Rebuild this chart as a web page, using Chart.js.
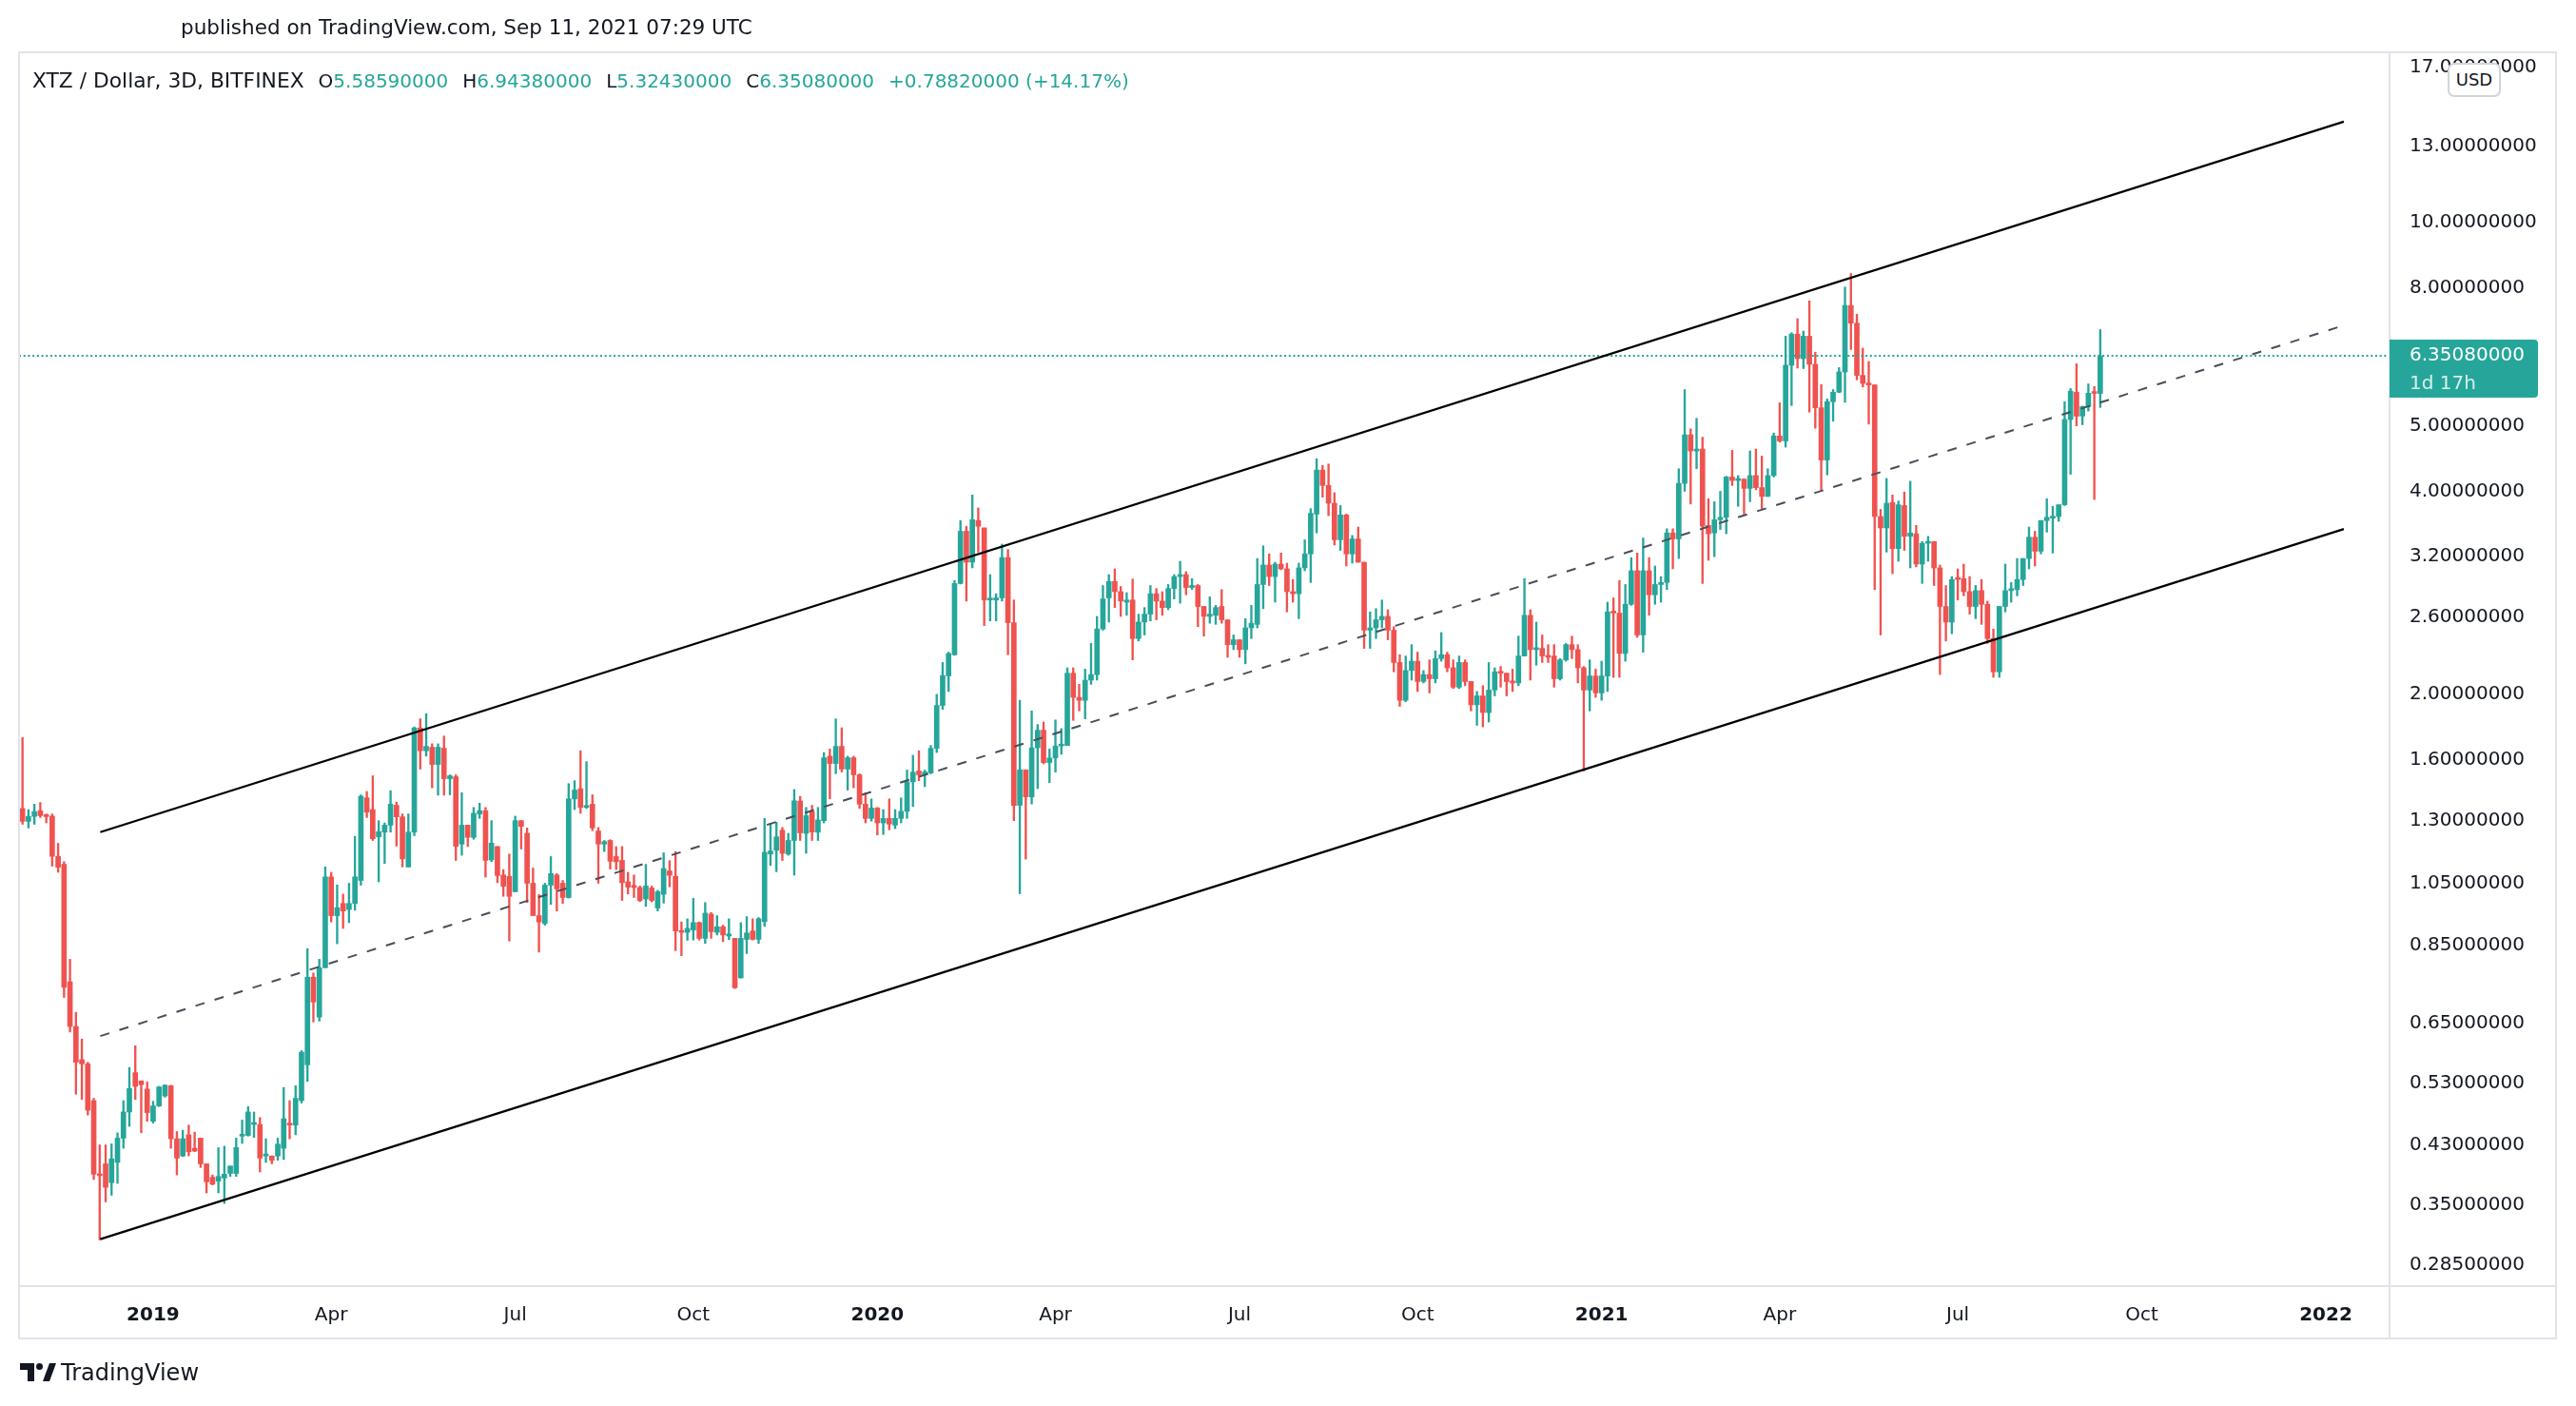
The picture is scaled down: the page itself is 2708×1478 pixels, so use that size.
<!DOCTYPE html>
<html><head><meta charset="utf-8">
<script src="https://cdn.jsdelivr.net/npm/chart.js@4.4.0/dist/chart.umd.min.js"></script>
<style>
html,body{margin:0;padding:0;background:#fff;}
#wrap{position:relative;width:2708px;height:1478px;overflow:hidden;font-family:"DejaVu Sans",sans-serif;color:#131722;}
#c{position:absolute;left:0;top:0;}
.title{position:absolute;left:190px;top:15px;font-size:21.5px;line-height:28px;white-space:nowrap;}
.legend{position:absolute;left:34px;top:71px;font-size:20px;line-height:28px;white-space:nowrap;}
.legend .nm{font-size:21.8px;}
.legend .v{color:#26a69a;}
.legend .it{margin-left:15px;}
.usd{position:absolute;left:2573px;top:66px;width:52px;height:32px;border:2px solid #d1d4dc;border-radius:7px;background:#fff;font-size:18px;line-height:32px;text-align:center;box-sizing:content-box;}
.footer{position:absolute;left:21px;top:1428px;height:30px;white-space:nowrap;}
.footer svg{position:absolute;left:0;top:5px;}
.footer span{position:absolute;left:43px;top:0;font-size:24px;line-height:30px;}
</style></head>
<body><div id="wrap">
<canvas id="c" width="2708" height="1478"></canvas>
<div class="title">published on TradingView.com, Sep 11, 2021 07:29 UTC</div>
<div class="legend"><span class="nm">XTZ / Dollar, 3D, BITFINEX</span><span class="it">O<span class="v">5.58590000</span></span><span class="it">H<span class="v">6.94380000</span></span><span class="it">L<span class="v">5.32430000</span></span><span class="it">C<span class="v">6.35080000</span></span><span class="it v">+0.78820000 (+14.17%)</span></div>
<div class="usd">USD</div>
<div class="footer"><svg width="38" height="20" viewBox="0 0 38 20"><path d="M0 0H15V19H8V7H0Z" fill="#131722"/><circle cx="20.5" cy="3.5" r="3.5" fill="#131722"/><path d="M24 19L31 0H38L31 19Z" fill="#131722"/></svg><span>TradingView</span></div>
</div>
<script>
// ---- data (XTZ/USD, 3-day candles, Bitfinex) ----
const firstCandleDay = -65.8; // days relative to 2019-01-01
const candleStepDays = 3;
const openPrices = [
1.355,1.297,1.319,1.345,1.322,1.32,1.151,1.12,0.75,0.644,
0.575,0.567,0.50,0.389,0.403,0.378,0.405,0.44,0.481,0.55,
0.535,0.52,0.466,0.491,0.508,0.526,0.439,0.414,0.445,0.425,
0.44,0.403,0.385,0.380,0.384,0.39,0.39,0.443,0.444,0.461,
0.461,0.414,0.414,0.414,0.425,0.463,0.46,0.50,0.565,0.762,
0.665,0.787,1.073,0.94,0.98,0.96,0.98,1.06,1.405,1.35,
1.23,1.25,1.28,1.37,1.317,1.11,1.25,1.784,1.65,1.67,
1.575,1.665,1.50,1.51,1.20,1.28,1.228,1.33,1.345,1.137,
1.19,1.08,1.075,1.02,1.30,1.245,1.05,0.94,0.915,1.043,
1.08,1.05,1.00,1.40,1.45,1.36,1.375,1.255,1.20,1.215,
1.15,1.135,1.055,1.042,1.035,0.995,1.033,0.965,1.011,1.095,
1.075,0.892,0.888,0.895,0.918,0.87,0.945,0.888,0.905,0.877,
0.87,0.76,0.867,0.892,0.867,0.921,1.16,1.175,1.258,1.16,
1.215,1.39,1.245,1.34,1.25,1.30,1.62,1.58,1.675,1.55,
1.611,1.52,1.375,1.31,1.357,1.29,1.31,1.28,1.31,1.342,
1.484,1.54,1.52,1.53,1.664,1.926,2.13,2.29,2.92,3.49,
3.14,3.62,3.53,2.76,2.76,2.78,3.19,2.555,1.37,1.546,
1.41,1.667,1.77,1.585,1.61,1.677,1.68,2.15,1.98,1.96,
2.10,2.14,2.50,2.78,2.94,2.84,2.74,2.76,2.42,2.56,
2.63,2.82,2.75,2.69,2.87,2.99,3.01,2.88,2.90,2.70,
2.61,2.62,2.70,2.58,2.37,2.41,2.33,2.51,2.54,2.91,
3.11,2.99,3.12,3.07,2.84,2.82,3.08,3.23,3.70,4.30,
4.08,3.84,3.39,3.69,3.23,3.40,3.14,2.49,2.51,2.58,
2.61,2.49,2.23,1.96,2.17,2.24,2.09,2.14,2.11,2.26,
2.29,2.19,2.05,2.23,2.09,1.93,1.99,1.88,2.03,2.16,
2.15,2.09,2.08,2.28,2.62,2.33,2.34,2.28,2.28,2.11,
2.25,2.37,2.33,2.19,2.03,2.13,2.01,2.13,2.65,2.64,
2.30,2.72,3.05,2.45,3.05,2.81,2.91,2.93,3.47,3.40,
4.11,4.85,4.59,4.62,3.56,3.47,3.63,3.66,4.20,4.15,
4.17,4.04,4.22,4.05,3.93,4.22,4.83,4.75,6.15,6.84,
6.29,6.79,6.17,5.32,4.45,5.43,5.61,6.01,7.54,7.10,
5.94,5.78,5.75,3.67,3.53,3.85,3.29,3.81,3.43,3.46,
3.12,3.35,3.37,3.08,2.70,2.56,2.98,2.97,2.84,2.70,
2.85,2.72,2.42,2.16,2.70,2.85,2.86,2.96,3.18,3.42,
3.26,3.62,3.65,3.67,3.82,5.11,5.61,5.17,5.34,5.59,
5.5859];
const highPrices = [
1.726,1.35,1.375,1.383,1.33,1.33,1.203,1.13,0.81,0.676,
0.617,0.57,0.504,0.43,0.43,0.4315,0.448,0.50,0.56,0.603,
0.535,0.533,0.499,0.525,0.528,0.527,0.45,0.452,0.46,0.449,
0.44,0.403,0.388,0.426,0.428,0.40,0.44,0.468,0.49,0.481,
0.472,0.439,0.414,0.44,0.523,0.50,0.526,0.593,0.84,0.773,
0.81,1.11,1.09,1.044,1.012,1.05,1.232,1.42,1.436,1.515,
1.30,1.29,1.44,1.385,1.33,1.33,1.79,1.84,1.873,1.69,
1.69,1.735,1.52,1.52,1.43,1.28,1.36,1.38,1.36,1.30,
1.19,1.10,1.16,1.32,1.30,1.268,1.106,1.01,1.05,1.15,
1.085,1.06,1.475,1.49,1.65,1.59,1.42,1.27,1.215,1.218,
1.19,1.19,1.09,1.08,1.04,1.12,1.04,1.025,1.165,1.134,
1.17,0.92,0.93,0.997,0.92,0.983,0.95,0.94,0.91,0.93,
0.87,0.918,0.937,0.93,0.934,1.31,1.288,1.293,1.27,1.245,
1.446,1.412,1.36,1.37,1.36,1.64,1.66,1.84,1.785,1.62,
1.62,1.525,1.43,1.40,1.36,1.35,1.40,1.35,1.405,1.545,
1.625,1.65,1.545,1.68,2.0,2.23,2.31,2.95,3.62,3.55,
3.95,3.78,3.53,3.01,2.82,3.34,3.28,2.76,1.96,1.546,
1.89,1.805,1.82,1.66,1.833,1.78,2.19,2.19,2.07,2.18,
2.38,2.61,2.90,3.01,3.07,2.89,2.83,2.965,2.63,2.69,
2.90,2.87,2.84,2.91,3.01,3.15,3.04,2.97,2.91,2.70,
2.79,2.71,2.86,2.58,2.45,2.41,2.59,2.71,3.18,3.32,
3.23,3.14,3.24,3.13,2.96,3.13,3.39,3.77,4.47,4.37,
4.39,3.98,3.81,3.70,3.44,3.54,3.14,2.65,2.68,2.76,
2.67,2.52,2.29,2.28,2.37,2.31,2.17,2.25,2.32,2.47,
2.31,2.25,2.28,2.25,2.09,2.02,2.06,2.23,2.19,2.20,
2.15,2.18,2.44,2.97,2.67,2.56,2.45,2.37,2.37,2.26,
2.38,2.44,2.37,2.20,2.25,2.18,2.24,2.74,2.78,2.95,
2.91,3.19,3.24,3.41,3.19,3.10,2.99,3.52,3.52,4.32,
5.66,4.95,5.13,4.81,3.90,3.86,4.00,4.21,4.60,4.22,
4.17,4.59,4.62,4.51,4.32,4.88,5.41,6.79,6.87,7.21,
6.91,7.66,6.43,5.76,5.48,5.66,6.10,8.03,8.41,7.32,
6.52,6.23,5.75,3.76,4.18,3.95,3.87,3.99,4.14,3.56,
3.37,3.43,3.37,3.11,2.90,2.99,3.07,3.12,2.99,2.90,
2.96,2.75,2.50,2.70,3.12,2.93,3.18,3.18,3.54,3.49,
3.62,3.90,3.80,3.82,5.43,5.68,6.18,5.35,5.77,5.72,
6.9438];
const lowPrices = [
1.284,1.268,1.284,1.314,1.29,1.113,1.09,0.711,0.632,0.511,
0.502,0.476,0.382,0.311,0.354,0.362,0.377,0.425,0.458,0.502,
0.448,0.466,0.463,0.49,0.506,0.425,0.388,0.413,0.414,0.42,
0.398,0.365,0.375,0.365,0.352,0.386,0.386,0.432,0.443,0.441,
0.392,0.405,0.403,0.408,0.409,0.439,0.445,0.496,0.534,0.654,
0.656,0.787,0.92,0.854,0.90,0.918,0.958,1.043,1.314,1.215,
1.055,1.123,1.25,1.192,1.11,1.11,1.235,1.55,1.62,1.454,
1.418,1.418,1.42,1.135,1.155,1.19,1.22,1.31,1.072,1.13,
1.052,1.004,0.862,1.02,1.18,0.983,0.94,0.83,0.91,0.977,
0.955,0.98,0.998,1.35,1.333,1.355,1.256,1.05,1.17,1.102,
1.10,0.99,1.012,1.00,0.986,0.97,0.985,0.955,0.981,1.037,
0.834,0.82,0.864,0.865,0.865,0.855,0.87,0.88,0.86,0.866,
0.733,0.76,0.826,0.865,0.855,0.906,1.116,1.092,1.135,1.155,
1.079,1.215,1.163,1.215,1.215,1.29,1.40,1.526,1.535,1.443,
1.454,1.355,1.29,1.298,1.238,1.24,1.26,1.265,1.29,1.31,
1.364,1.49,1.46,1.525,1.64,1.90,2.02,2.285,2.915,2.75,
3.08,3.25,2.53,2.57,2.57,2.75,2.29,1.30,1.013,1.14,
1.376,1.45,1.578,1.48,1.534,1.63,1.68,1.83,1.89,1.84,
2.07,2.10,2.49,2.56,2.69,2.61,2.62,2.25,2.40,2.45,
2.57,2.58,2.62,2.67,2.77,2.73,2.81,2.86,2.52,2.44,
2.55,2.54,2.55,2.27,2.33,2.27,2.22,2.42,2.51,2.68,
2.90,2.74,3.06,2.65,2.74,2.59,3.05,2.93,3.47,3.92,
3.68,3.33,3.27,3.10,3.13,3.14,2.34,2.34,2.42,2.51,
2.41,2.16,1.92,1.95,2.10,2.02,2.08,2.01,2.08,2.24,
2.16,2.04,2.04,2.06,1.89,1.80,1.79,1.82,1.99,2.05,
1.99,2.02,2.06,2.28,2.10,2.21,2.23,2.23,2.05,2.10,
2.24,2.26,2.08,1.54,1.89,1.98,1.96,2.02,2.12,2.12,
2.24,2.71,2.43,2.31,2.62,2.72,2.74,2.86,3.07,3.18,
4.00,3.83,4.32,2.92,3.16,3.20,3.51,3.46,4.08,3.80,
3.70,3.86,4.02,3.77,3.93,4.20,4.73,4.65,5.36,6.09,
6.08,5.24,4.96,4.02,4.23,5.08,5.60,5.42,6.49,5.85,
5.71,5.03,2.86,2.45,3.25,3.02,3.15,3.27,3.08,3.09,
2.92,3.15,2.90,2.14,2.40,2.46,2.76,2.80,2.63,2.59,
2.54,2.38,2.12,2.12,2.65,2.74,2.80,2.90,3.07,3.10,
3.23,3.48,3.24,3.61,3.81,4.24,5.00,5.02,5.26,3.89,
5.3243];
const closePrices = [
1.297,1.319,1.341,1.322,1.318,1.151,1.109,0.736,0.644,0.57,
0.567,0.484,0.389,0.387,0.372,0.41,0.44,0.481,0.521,0.525,
0.528,0.48,0.491,0.524,0.527,0.439,0.411,0.439,0.42,0.421,
0.403,0.379,0.376,0.386,0.389,0.40,0.426,0.444,0.481,0.463,
0.411,0.416,0.408,0.431,0.47,0.46,0.504,0.59,0.762,0.70,
0.787,1.073,0.94,0.966,0.955,0.98,1.073,1.413,1.338,1.222,
1.252,1.28,1.375,1.317,1.141,1.25,1.784,1.65,1.675,1.575,
1.67,1.50,1.515,1.191,1.28,1.228,1.333,1.345,1.135,1.204,
1.078,1.039,1.004,1.30,1.275,1.05,0.94,0.92,1.043,1.085,
1.03,1.00,1.40,1.443,1.36,1.365,1.268,1.20,1.21,1.132,
1.13,1.052,1.036,1.035,0.99,1.04,0.99,1.02,1.104,1.079,
0.892,0.888,0.90,0.918,0.87,0.948,0.89,0.905,0.88,0.883,
0.735,0.87,0.886,0.867,0.93,1.167,1.172,1.23,1.163,1.215,
1.391,1.247,1.322,1.25,1.303,1.611,1.58,1.675,1.55,1.611,
1.52,1.375,1.31,1.357,1.29,1.31,1.285,1.31,1.342,1.484,
1.534,1.52,1.535,1.664,1.926,2.133,2.30,2.92,3.49,3.14,
3.63,3.55,2.76,2.775,2.78,3.19,2.555,1.369,1.546,1.41,
1.667,1.77,1.585,1.61,1.677,1.682,2.15,1.98,1.96,2.10,
2.14,2.50,2.77,2.94,2.84,2.75,2.76,2.42,2.56,2.63,
2.82,2.75,2.69,2.87,2.99,3.01,2.88,2.90,2.70,2.61,
2.63,2.69,2.58,2.37,2.41,2.33,2.51,2.55,2.91,3.11,
2.99,3.12,3.07,2.84,2.82,3.08,3.23,3.71,4.30,4.08,
3.84,3.39,3.69,3.23,3.40,3.14,2.49,2.51,2.58,2.61,
2.49,2.23,1.96,2.17,2.24,2.09,2.14,2.11,2.26,2.29,
2.19,2.05,2.23,2.09,1.93,1.99,1.88,2.03,2.16,2.15,
2.09,2.08,2.28,2.62,2.33,2.34,2.28,2.27,2.11,2.25,
2.37,2.33,2.19,2.03,2.13,2.01,2.13,2.65,2.64,2.30,
2.72,3.05,2.45,3.05,2.81,2.91,2.93,3.47,3.40,4.11,
4.85,4.59,4.62,3.55,3.46,3.63,3.66,4.20,4.15,4.17,
4.04,4.22,4.05,3.93,4.22,4.83,4.75,6.15,6.84,6.29,
6.79,6.17,5.32,4.45,5.43,5.61,6.01,7.54,7.10,5.94,
5.78,5.75,3.67,3.53,3.84,3.29,3.82,3.43,3.47,3.12,
3.35,3.37,3.08,2.70,2.56,2.96,2.96,2.84,2.70,2.85,
2.72,2.42,2.16,2.70,2.85,2.86,2.96,3.18,3.42,3.26,
3.62,3.66,3.66,3.82,5.11,5.63,5.17,5.34,5.59,5.5859,
6.3508];

// channel drawing (two anchor points each)
const channelDays = [-26.5, 1107.3];
const upperChannel = [1.25, 14.12];
const middleChannel = [0.6233, 7.046];
const lowerChannel = [0.3117, 3.517];
const lastPrice = 6.3508;
const lastPriceLabel = '6.35080000';
const countdownLabel = '1d 17h';

// axis ticks
const yTickValues = [17, 13, 10, 8, 5, 4, 3.2, 2.6, 2.0, 1.6, 1.3, 1.05, 0.85, 0.65, 0.53, 0.43, 0.35, 0.285];
const xTickLabels = ['2019','Apr','Jul','Oct','2020','Apr','Jul','Oct','2021','Apr','Jul','Oct','2022'];
const xTickMonthDays = [0, 90, 181, 273, 365, 456, 547, 639, 731, 821, 912, 1004, 1096];

// ---- build chart ----
const UP = '#26a69a', DOWN = '#ef5350';
const candleDay = i => firstCandleDay + candleStepDays * i;
const isUp = closePrices.map((c, i) => c >= openPrices[i]);
const candleColors = isUp.map(u => u ? UP : DOWN);
const wickData = highPrices.map((h, i) => ({x: candleDay(i), y: [lowPrices[i], h]}));
const bodyData = closePrices.map((c, i) => ({x: candleDay(i), y: [openPrices[i], c]}));
const xTickPositions = xTickMonthDays.map(d => firstCandleDay + candleStepDays * Math.ceil((d - firstCandleDay) / candleStepDays));
const xMin = firstCandleDay - 1.76, xMax = firstCandleDay + 1196.2;
const lineSet = (vals, color, dash, width) => ({
  type: 'line', data: channelDays.map((d, k) => ({x: d, y: vals[k]})),
  borderColor: color, borderWidth: width, borderDash: dash, pointRadius: 0, fill: false, tension: 0, order: 0
});
const FONT = '"DejaVu Sans", sans-serif';
const TEXT = '#131722';

const framePlugin = {
  id: 'frame',
  beforeDraw(chart) {
    const {ctx} = chart;
    ctx.save();
    ctx.fillStyle = '#fff';
    ctx.fillRect(0, 0, chart.width, chart.height);
    ctx.restore();
  },
  afterDraw(chart) {
    const {ctx, chartArea: a} = chart;
    const R = a.right + 175, B = a.bottom + 55;
    ctx.save();
    ctx.strokeStyle = '#e0e3eb'; ctx.lineWidth = 2;
    ctx.strokeRect(a.left, a.top, R - a.left, B - a.top);
    ctx.beginPath();
    ctx.moveTo(a.right, a.top); ctx.lineTo(a.right, B);
    ctx.moveTo(a.left, a.bottom); ctx.lineTo(R, a.bottom);
    ctx.stroke();
    const y = chart.scales.y.getPixelForValue(lastPrice);
    ctx.fillStyle = UP;
    ctx.beginPath();
    ctx.roundRect(a.right, y - 17, 156, 61, [0, 4, 4, 0]);
    ctx.fill();
    ctx.font = '20px ' + FONT;
    ctx.textBaseline = 'middle';
    ctx.textAlign = 'left';
    ctx.fillStyle = '#ffffff';
    ctx.fillText(lastPriceLabel, a.right + 21, y);
    ctx.fillStyle = 'rgba(255,255,255,0.82)';
    ctx.fillText(countdownLabel, a.right + 21, y + 30);
    ctx.restore();
  }
};

new Chart(document.getElementById('c'), {
  type: 'bar',
  data: {
    datasets: [
      {data: wickData, backgroundColor: candleColors, barThickness: 1.7, grouped: false, order: 3, borderWidth: 0},
      {data: bodyData, backgroundColor: candleColors, barThickness: 5, grouped: false, order: 2, borderWidth: 0, minBarLength: 2},
      lineSet(upperChannel, '#000000', [], 2.2),
      lineSet(lowerChannel, '#000000', [], 2.2),
      lineSet(middleChannel, '#4a4e5a', [10, 11], 2),
      {type: 'line', data: [{x: xMin, y: lastPrice}, {x: xMax, y: lastPrice}], borderColor: UP, borderWidth: 2,
       borderDash: [2, 2.7], pointRadius: 0, fill: false, order: 1}
    ]
  },
  options: {
    responsive: false, animation: false, devicePixelRatio: 1,
    layout: {padding: {left: 20, top: 55, right: 21, bottom: 71}},
    plugins: {legend: {display: false}, tooltip: {enabled: false}, title: {display: false}},
    scales: {
      x: {
        type: 'linear', min: xMin, max: xMax, offset: false,
        grid: {display: false, drawTicks: false}, border: {display: false},
        afterBuildTicks: s => { s.ticks = xTickPositions.map(v => ({value: v})); },
        afterFit: s => { s.height = 55; },
        ticks: {
          autoSkip: false, maxRotation: 0, minRotation: 0, padding: 19, color: TEXT,
          callback: (v, i) => xTickLabels[i],
          font: c => ({family: FONT, size: 20, weight: /^\d{4}$/.test(xTickLabels[c.index] || '') ? 'bold' : 'normal'})
        }
      },
      y: {
        type: 'logarithmic', position: 'right', min: 0.2655, max: 17.89,
        grid: {display: false, drawTicks: false}, border: {display: false},
        afterBuildTicks: s => { s.ticks = yTickValues.map(v => ({value: v})); },
        afterFit: s => { s.width = 175; },
        ticks: {padding: 21, color: TEXT, font: {family: FONT, size: 20}, callback: v => Number(v).toFixed(8)}
      }
    }
  },
  plugins: [framePlugin]
});
</script>
</body></html>
